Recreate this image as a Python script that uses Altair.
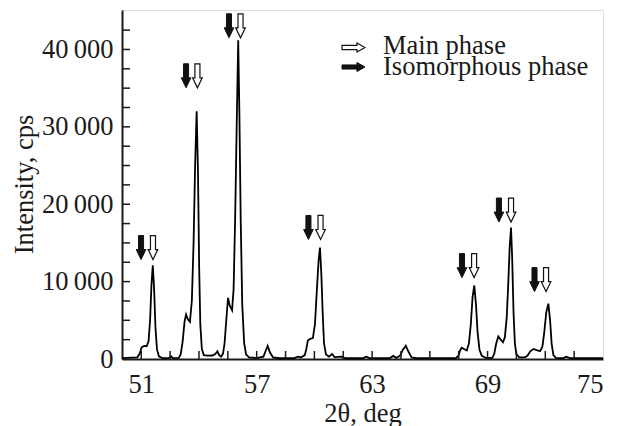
import altair as alt
import pandas as pd

# ---- spectrum ----
two_theta = [50.00, 50.80, 50.92, 51.02, 51.15, 51.28, 51.38, 51.46, 51.53, 51.60, 51.67, 51.74, 51.82, 51.92,
             52.10, 52.45, 52.55, 52.65, 52.95, 53.05, 53.15, 53.25, 53.33, 53.43, 53.53, 53.63, 53.72, 53.80,
             53.88, 53.95, 54.01, 54.07, 54.15, 54.25, 54.45, 54.70, 54.85, 54.96, 55.05, 55.15, 55.25, 55.33,
             55.42, 55.51, 55.60, 55.72, 55.80, 55.88, 55.96, 56.04, 56.10, 56.17, 56.25, 56.35, 56.45, 56.60,
             57.00, 57.35, 57.46, 57.57, 57.68, 57.85, 58.20, 58.95, 59.15, 59.30, 59.50, 59.58, 59.66, 59.78,
             59.92, 60.03, 60.13, 60.22, 60.29, 60.36, 60.43, 60.50, 60.60, 60.75, 60.92, 61.05, 61.42, 61.60,
             62.50, 62.70, 62.90, 63.90, 64.10, 64.25, 64.45, 64.60, 64.75, 64.90, 65.05, 65.30, 67.35, 67.48,
             67.57, 67.66, 67.80, 67.92, 68.03, 68.13, 68.22, 68.31, 68.40, 68.48, 68.58, 68.70, 68.90, 69.25,
             69.35, 69.45, 69.56, 69.68, 69.80, 69.90, 70.00, 70.08, 70.15, 70.22, 70.28, 70.35, 70.42, 70.50,
             70.65, 70.95, 71.08, 71.22, 71.38, 71.55, 71.73, 71.85, 71.95, 72.05, 72.16, 72.25, 72.33, 72.42,
             72.55, 72.90, 73.10, 73.30, 75.00]
intensity = [120, 200, 700, 1500, 1700, 1650, 2300, 5000, 9500, 12100, 9000, 4000, 1200, 350,
             120, 120, 350, 120, 150, 600, 2200, 4800, 5750, 5100, 4800, 7500, 15000, 25000,
             32000, 24000, 12000, 4500, 1300, 500, 430, 450, 650, 1000, 500, 300, 700, 2000,
             5000, 7900, 6900, 6300, 9000, 18000, 30000, 41200, 32000, 18000, 7000, 2000, 600, 200,
             120, 300, 1000, 1700, 900, 200, 100, 120, 300, 200, 500, 1300, 2400, 2600,
             2700, 4500, 9000, 12800, 14400, 11000, 6000, 2000, 600, 300, 650, 250, 300, 100,
             100, 300, 100, 100, 400, 150, 400, 1200, 1700, 900, 200, 100, 100, 400,
             1100, 1450, 1250, 1100, 2000, 4500, 8000, 9500, 7000, 3500, 1200, 400, 150, 150,
             700, 2000, 2900, 2500, 2150, 2800, 5500, 10000, 14500, 17000, 13000, 6000, 2000, 600,
             200, 200, 450, 1000, 1300, 1150, 1000, 1600, 3500, 6000, 7150, 5000, 2000, 500,
             150, 100, 300, 100, 100]

# ---- phase markers ----
main_x = [51.61, 53.92, 56.16, 60.32, 68.30, 70.22, 72.04]
iso_x = [50.99, 53.33, 55.56, 59.69, 67.67, 69.59, 71.44]
arrow_y = [14400, 36600, 43060, 17000, 12070, 19250, 10260]

# ---- axes ----
x_labels = [51, 57, 63, 69, 75]
y_labels = [0, 10000, 20000, 30000, 40000]
x_ticks = [51, 52.5, 54, 55.5, 57, 58.5, 60, 61.5, 63, 64.5, 66, 67.5, 69, 70.5, 72, 73.5]
y_ticks = [2500, 5000, 7500, 10000, 12500, 15000, 17500, 20000, 22500, 25000, 27500,
           30000, 32500, 35000, 37500, 40000, 42500]

legend_labels = ["Main phase", "Isomorphous phase"]

FONT = "Liberation Serif"
FS = 26.5
INK = "#1a1a1a"
W, H = 481, 349

spec = pd.DataFrame({"t": two_theta, "i": intensity})
main_df = pd.DataFrame({"t": main_x, "i": arrow_y})
iso_df = pd.DataFrame({"t": iso_x, "i": arrow_y})
xt_df = pd.DataFrame({"t": x_ticks})
yt_df = pd.DataFrame({"i": y_ticks})

xscale = alt.Scale(domain=[50, 75], nice=False, zero=False)
yscale = alt.Scale(domain=[0, 45100], nice=False)

xaxis = alt.Axis(values=x_labels, ticks=False, tickSize=0, grid=False,
                 labelFont=FONT, labelFontSize=FS, labelColor=INK, labelPadding=12,
                 domainColor=INK, domainWidth=2,
                 title="2θ, deg", titleFont=FONT, titleFontSize=FS, titleFontWeight="normal",
                 titleColor=INK, titleY=62, titleBaseline="alphabetic")
yaxis = alt.Axis(values=y_labels, ticks=False, tickSize=0, grid=False,
                 labelFont=FONT, labelFontSize=FS, labelColor=INK, labelPadding=9,
                 labelExpr="replace(format(datum.value, ','), ',', '\u2009')",
                 domainColor=INK, domainWidth=2,
                 title="Intensity, cps", titleFont=FONT, titleFontSize=FS, titleFontWeight="normal",
                 titleColor=INK, titleX=-90, titleY=174, titleBaseline="alphabetic")

line = alt.Chart(spec).mark_line(color="#000", strokeWidth=1.8).encode(
    x=alt.X("t:Q", scale=xscale, axis=xaxis),
    y=alt.Y("i:Q", scale=yscale, axis=yaxis),
)

down_arrow = "M-0.21,-1L0.21,-1L0.21,0.17L0.4,0.17L0,1L-0.4,0.17L-0.21,0.17Z"
right_arrow = "M-1,-0.18L0.3,-0.18L0.3,-0.39L1,0L0.3,0.39L0.3,0.18L-1,0.18Z"

iso_marks = alt.Chart(iso_df).mark_point(shape=down_arrow, size=576, filled=True, fill="#111",
                                         stroke="#111", strokeWidth=1, opacity=1).encode(
    x=alt.X("t:Q", scale=xscale), y=alt.Y("i:Q", scale=yscale))
main_marks = alt.Chart(main_df).mark_point(shape=down_arrow, size=576, filled=True, fill="white",
                                           stroke="#111", strokeWidth=1.2, opacity=1).encode(
    x=alt.X("t:Q", scale=xscale), y=alt.Y("i:Q", scale=yscale))

xticks = alt.Chart(xt_df).mark_rule(color=INK, strokeWidth=1.5).encode(
    x=alt.X("t:Q", scale=xscale), y=alt.value(H), y2=alt.value(H - 8))
yticks = alt.Chart(yt_df).mark_rule(color=INK, strokeWidth=1.5).encode(
    y=alt.Y("i:Q", scale=yscale), x=alt.value(0), x2=alt.value(8))

leg_main_sym = alt.Chart(spec).mark_point(shape=right_arrow, size=529, filled=True, fill="white",
                                          stroke="#111", strokeWidth=1.2, opacity=1).encode(
    x=alt.value(231.5), y=alt.value(37.5)).transform_filter("datum.t == 50")
leg_iso_sym = alt.Chart(spec).mark_point(shape=right_arrow, size=529, filled=True, fill="#111",
                                         stroke="#111", strokeWidth=1, opacity=1).encode(
    x=alt.value(231.5), y=alt.value(57)).transform_filter("datum.t == 50")
leg_main_txt = alt.Chart(spec).mark_text(text=legend_labels[0], font=FONT, fontSize=FS, color=INK,
                                         align="left", baseline="alphabetic").encode(
    x=alt.value(261), y=alt.value(44)).transform_filter("datum.t == 50")
leg_iso_txt = alt.Chart(spec).mark_text(text=legend_labels[1], font=FONT, fontSize=FS, color=INK,
                                        align="left", baseline="alphabetic").encode(
    x=alt.value(261), y=alt.value(65)).transform_filter("datum.t == 50")

chart = alt.layer(
    line, xticks, yticks, iso_marks, main_marks,
    leg_main_sym, leg_iso_sym, leg_main_txt, leg_iso_txt,
).properties(
    width=W, height=H,
    padding={"left": 114, "top": 2, "right": 8, "bottom": 67},
    autosize=alt.AutoSizeParams(type="none"),
).configure_view(stroke=INK, strokeWidth=2).configure(background="white")

chart.save("out.html", embed_options={"renderer": "svg", "actions": False})
